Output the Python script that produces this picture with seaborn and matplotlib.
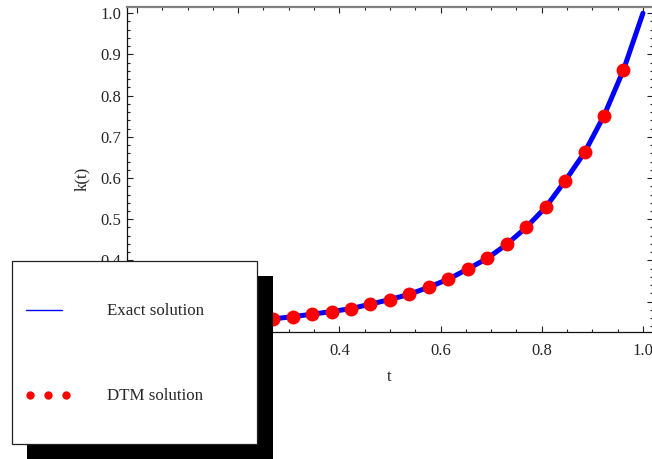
import matplotlib
matplotlib.use("Agg")
import matplotlib.pyplot as plt
from matplotlib.lines import Line2D
from matplotlib.patches import Rectangle
from matplotlib.ticker import MultipleLocator, FormatStrFormatter
import pandas as pd
import seaborn as sns

# DTM points (t = i/26); the first few sit under the legend
T_DTM = [0.0, 0.0385, 0.0769, 0.1154, 0.1538, 0.1923, 0.2308, 0.2692,
         0.3077, 0.3462, 0.3846, 0.4231, 0.4615, 0.5, 0.5385, 0.5769,
         0.6154, 0.6538, 0.6923, 0.7308, 0.7692, 0.8077, 0.8462, 0.8846,
         0.9231, 0.9615]
K_DTM = [0.242, 0.243, 0.2445, 0.2465, 0.249, 0.2515, 0.2545, 0.258,
         0.2636, 0.2694, 0.276, 0.283, 0.294, 0.305, 0.318, 0.335,
         0.3546, 0.379, 0.405, 0.439, 0.480, 0.529, 0.593, 0.662,
         0.7515, 0.862]

# exact solution curve
T_EXACT = T_DTM + [0.981, 1.0]
K_EXACT = K_DTM + [0.932, 1.0]

XTICKS = [0.0, 0.2, 0.4, 0.6, 0.8, 1.0]

sns.set_style("ticks")
plt.rcParams["font.family"] = ["Liberation Serif", "DejaVu Serif"]
plt.rcParams["font.size"] = 12

fig = plt.figure(figsize=(6.52, 4.59), dpi=100)
ax = fig.add_axes([0.1945, 0.2767, 0.8071, 0.7081])

exact = pd.DataFrame({"t": T_EXACT, "k": K_EXACT})
dtm = pd.DataFrame({"t": T_DTM, "k": K_DTM})

sns.lineplot(data=exact, x="t", y="k", color="#0000ff", linewidth=3.6,
             sort=False, estimator=None, ax=ax, zorder=2)
sns.scatterplot(data=dtm, x="t", y="k", color="#ff0000", s=100,
                linewidth=0, ax=ax, zorder=3)

ax.set_xlim(-0.02, 1.02)
ax.set_ylim(0.2263, 1.0152)
ax.set_xticks(XTICKS)
ax.xaxis.set_minor_locator(MultipleLocator(0.05))
ax.yaxis.set_major_locator(MultipleLocator(0.1))
ax.yaxis.set_minor_locator(MultipleLocator(0.02))
ax.xaxis.set_major_formatter(FormatStrFormatter("%.1f"))
ax.yaxis.set_major_formatter(FormatStrFormatter("%.1f"))
ax.tick_params(which="both", direction="in", top=True, right=True,
               labeltop=False, labelright=False, width=0.8, color="#222222",
               labelsize=12)
ax.tick_params(which="major", length=4.3)
ax.tick_params(which="minor", length=2.3)
ax.tick_params(axis="x", pad=8)
ax.tick_params(axis="y", pad=4)

for side in ["left", "bottom"]:
    ax.spines[side].set_color("#111111")
    ax.spines[side].set_linewidth(0.9)
for side in ["top", "right"]:
    ax.spines[side].set_color("#808080")
    ax.spines[side].set_linewidth(1.6)

ax.set_xlabel("t", fontsize=12)
ax.set_ylabel("k(t)", fontsize=12)
ax.xaxis.set_label_coords(0.498, -0.115)
ax.yaxis.set_label_coords(-0.070, 0.4717)

# tick labels that sit fully under the legend box
fig.canvas.draw()
for lab in ax.get_xticklabels():
    if lab.get_text() in ("0.0", "0.2"):
        lab.set_visible(False)
for lab in ax.get_yticklabels():
    if lab.get_text() in ("0.2", "0.3"):
        lab.set_visible(False)

# legend box with black drop shadow, drawn in figure pixels
W, H = 652, 459


def fx(px):
    return px / W


def fy(py):
    return (H - py) / H


fig.add_artist(Rectangle((fx(27), fy(459)), fx(246), 183.3 / H,
                         transform=fig.transFigure, facecolor="black",
                         edgecolor="none", zorder=10))
fig.add_artist(Rectangle((fx(12), fy(444)), fx(245), 183.3 / H,
                         transform=fig.transFigure, facecolor="white",
                         edgecolor="#222222", linewidth=0.9, zorder=11))
fig.add_artist(Line2D([fx(26), fx(62)], [fy(310), fy(310)],
                      transform=fig.transFigure, color="#0000ff",
                      linewidth=1.0, zorder=12))
fig.add_artist(Line2D([fx(30), fx(48), fx(66)], [fy(394.5)] * 3,
                      transform=fig.transFigure, linestyle="none",
                      marker="o", markersize=6, color="#ff0000",
                      markeredgewidth=0, zorder=12))
fig.text(fx(107), fy(311), "Exact solution", ha="left", va="center",
         fontsize=12.2, zorder=12)
fig.text(fx(107), fy(395.5), "DTM solution", ha="left", va="center",
         fontsize=12.2, zorder=12)

fig.savefig("out.png", dpi=100)
plt.close(fig)
